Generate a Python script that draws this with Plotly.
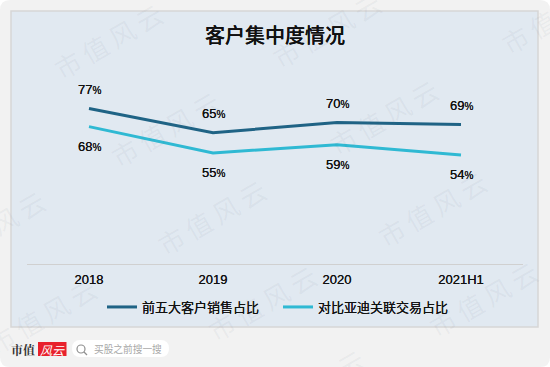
import plotly.graph_objects as go

W, H = 550, 367
categories = ["2018", "2019", "2020", "2021H1"]
series_names = ["前五大客户销售占比", "对比亚迪关联交易占比"]
top5 = [77, 65, 70, 69]
byd = [68, 55, 59, 54]
colors = ["#1f6385", "#2fb9d3"]
title = "客户集中度情况"
search_text = "买股之前搜一搜"
watermark = "市\u2009值\u2009风\u2009云"
FONT = "Noto Sans CJK SC"
LAT = "Liberation Sans"
SHADOW = "0 0 0.3px #111111"


def px(x):
    return x / W


def py(y):
    return 1 - y / H


def rect(x0, y0, x1, y1, **kw):
    return dict(type="rect", xref="paper", yref="paper", x0=px(x0), x1=px(x1), y0=py(y1), y1=py(y0), layer="below", **kw)


def rounded(x0, y0, x1, y1, r):
    pts = [
        f"M{px(x0+r)},{py(y0)}", f"L{px(x1-r)},{py(y0)}", f"Q{px(x1)},{py(y0)} {px(x1)},{py(y0+r)}",
        f"L{px(x1)},{py(y1-r)}", f"Q{px(x1)},{py(y1)} {px(x1-r)},{py(y1)}", f"L{px(x0+r)},{py(y1)}",
        f"Q{px(x0)},{py(y1)} {px(x0)},{py(y1-r)}", f"L{px(x0)},{py(y0+r)}", f"Q{px(x0)},{py(y0)} {px(x0+r)},{py(y0)}Z",
    ]
    return " ".join(pts)


fig = go.Figure()
for name, vals, col in [(series_names[0], top5, colors[0]), (series_names[1], byd, colors[1])]:
    fig.add_trace(go.Scatter(x=categories, y=vals, name=name, mode="lines", line=dict(color=col, width=3), cliponaxis=False))

shapes = [
    dict(type="path", xref="paper", yref="paper", path=rounded(0, 0, 550, 367, 10), fillcolor="#f2f2f2", line=dict(width=0), layer="below"),
    rect(11, 11, 538, 327, fillcolor="#e1e9f1", line=dict(color="#d6d6d6", width=1.5)),
    dict(type="path", xref="paper", yref="paper", path=rounded(72, 340, 169, 357, 8.5), fillcolor="#ffffff", line=dict(width=0), layer="below"),
    dict(type="rect", xref="paper", yref="paper", x0=px(38), x1=px(66.5), y0=py(356), y1=py(342), fillcolor="#e8212c", line=dict(width=0), layer="below"),
    dict(type="circle", xref="paper", yref="paper", x0=px(77), x1=px(85), y0=py(353), y1=py(345), line=dict(color="#8f8f8f", width=1.2), layer="below"),
    dict(type="line", xref="paper", yref="paper", x0=px(84), x1=px(87), y0=py(352), y1=py(355), line=dict(color="#8f8f8f", width=1.2), layer="below"),
]

annotations = []
# faint diagonal watermark text (drawn first so it lies under the labels)
marks = [(108, 40), (165, 128), (327, 30), (556, 16), (384, 117), (-9, 228), (212, 217), (42, 315), (432, 208), (483, 298), (262, 302), (310, 386)]
for mx, my in marks:
    annotations.append(dict(text=watermark, x=px(mx), y=py(my), xref="paper", yref="paper", showarrow=False, textangle=-30,
                            xanchor="center", yanchor="middle", font=dict(family=FONT, size=26, color="rgba(110,120,130,0.07)")))

annotations += [
    dict(text=title, x=px(275), y=py(35), xref="paper", yref="paper", showarrow=False, xanchor="center", yanchor="middle",
         font=dict(family=FONT, size=20, color="#111111", weight=500, shadow="0 0 0.3px #111111")),
    dict(text="<b>市值</b>", x=px(23), y=py(349.5), xref="paper", yref="paper", showarrow=False, xanchor="center", yanchor="middle",
         font=dict(family="Noto Serif CJK SC, " + FONT, size=12, color="#333333")),
    dict(text="<i>风云</i>", x=px(52), y=py(349), xref="paper", yref="paper", showarrow=False, xanchor="center", yanchor="middle",
         font=dict(family=FONT, size=12, color="#ffffff")),
    dict(text=search_text, x=px(92), y=py(349), xref="paper", yref="paper", showarrow=False, xanchor="left", yanchor="middle",
         font=dict(family=FONT, size=9.7, color="#a8a8a8")),
]
# value labels, anchored to the data
for vals, shift in [(top5, 19), (byd, -20)]:
    for i, v in enumerate(vals):
        annotations.append(dict(text=f"{v}<span style='font-size:10px'>%</span>", x=i, y=v, xref="x", yref="y", yshift=shift,
                                showarrow=False, xanchor="center", yanchor="middle",
                                font=dict(family=LAT, size=13, color="#111111", shadow=SHADOW)))

fig.update_layout(
    width=W, height=H, margin=dict(l=0, r=0, t=0, b=0), autosize=False,
    paper_bgcolor="#ffffff", plot_bgcolor="rgba(0,0,0,0)",
    showlegend=True,
    legend=dict(orientation="h", x=px(102), y=py(307), xanchor="left", yanchor="middle", entrywidth=131, entrywidthmode="pixels",
                font=dict(family=FONT, size=13, color="#111111", shadow=SHADOW), itemwidth=30, bgcolor="rgba(0,0,0,0)", traceorder="normal"),
    xaxis=dict(domain=[px(27), px(523)], type="category", range=[-0.5, 3.5], showgrid=False, showline=True, linecolor="#d0d0d0", linewidth=1,
               ticks="", tickfont=dict(family=LAT, size=13, color="#111111", shadow=SHADOW), ticklen=0, ticklabelstandoff=3, zeroline=False),
    yaxis=dict(domain=[py(264), py(62)], range=[0, 100], visible=False, showgrid=False, zeroline=False),
    shapes=shapes, annotations=annotations,
)
fig.write_html("out.html", config=dict(displayModeBar=False),
               post_script="document.body.style.margin='0';document.body.style.overflow='hidden';")
